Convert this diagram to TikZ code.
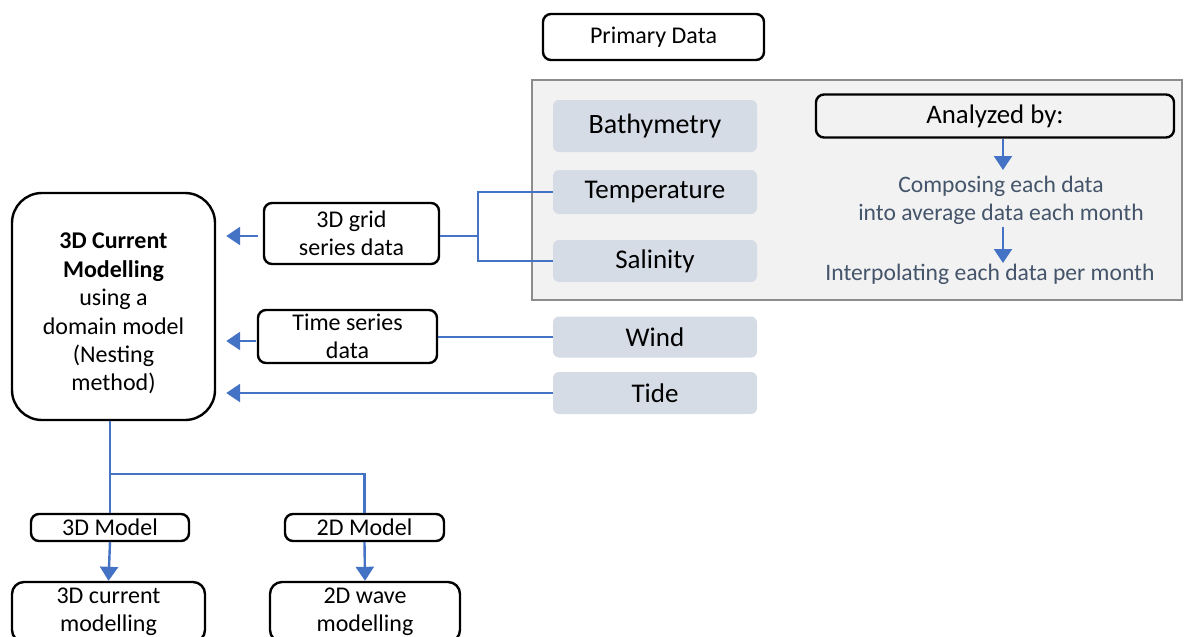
\documentclass[tikz,border=0pt]{standalone}
\usepackage{fontspec}
\setmainfont{Carlito}
\usetikzlibrary{arrows.meta}

\definecolor{arrowblue}{HTML}{4472C4}
\definecolor{panelgray}{HTML}{F2F2F2}
\definecolor{panelline}{HTML}{8C8C8C}
\definecolor{datafill}{HTML}{D6DCE5}
\definecolor{notetext}{HTML}{44546A}

\tikzset{
  box/.style={draw=black, line width=1.2pt, rounded corners=4pt, align=center, inner sep=0pt,
    font=\fontsize{12}{14.2}\selectfont},
  databox/.style={fill=datafill, rounded corners=3pt, minimum width=102pt, inner sep=0pt,
    font=\fontsize{13.5}{16}\selectfont},
  note/.style={text=notetext, align=center, inner sep=1pt, font=\fontsize{11.8}{14}\selectfont},
  link/.style={draw=arrowblue, line width=1.2pt},
  feed/.style={link, -{Triangle[width=9pt,length=7pt]}},
}

\begin{document}
\begin{tikzpicture}[x=0.5pt,y=-0.5pt]
  \useasboundingbox (0,0) rectangle (1184,637);
  \clip (0,0) rectangle (1184,637);

  % primary data panel
  \node[box, minimum width=110.5pt, minimum height=23pt] (primary) at (653.5,37) {Primary Data};
  \draw[fill=panelgray, draw=panelline, line width=1pt] (532,80) rectangle (1182,300);

  \node[databox, minimum height=26pt, font=\fontsize{14}{16}\selectfont] (bathy) at (655,126) {Bathymetry};
  \node[databox, minimum height=22pt] (temp) at (655,192) {Temperature};
  \node[databox, minimum height=21pt] (sal) at (655,261) {Salinity};
  \node[databox, minimum height=20.5pt] (wind) at (655,337) {Wind};
  \node[databox, minimum height=21pt] (tide) at (655,393) {Tide};

  \node[box, minimum width=179pt, minimum height=21.5pt, font=\fontsize{13.4}{15}\selectfont]
    (analyzed) at (995,116) {Analyzed by:};
  \node[note] (compose) at (1001,200) {Composing each data\\into average data each month};
  \node[note] (interp) at (990,274) {Interpolating each data per month};
  \draw[feed] (analyzed.south -| 1003,0) -- (1003,170);
  \draw[feed] (compose.south -| 1003,0) -- (1003,263);

  % data boxes
  \node[box, minimum width=87.5pt, minimum height=30.5pt] (grid) at (351.5,233.5) {3D grid\\series data};
  \node[box, minimum width=89.5pt, minimum height=26.5pt] (timeser) at (347.5,336.5) {Time series\\data};

  % model
  \node[box, rounded corners=15pt, minimum width=101.5pt, minimum height=113.5pt] (main) at (113.5,306.5)
    {\rule{0pt}{15pt}\textbf{3D Current}\\\textbf{Modelling}\\using a\\domain model\\(Nesting\\method)};
  \node[box, minimum width=79pt, minimum height=13.5pt] (model3) at (110,527.5) {3D Model};
  \node[box, minimum width=79.5pt, minimum height=13.5pt] (model2) at (364.5,527.5) {2D Model};
  \node[box, rounded corners=6pt, minimum width=96.5pt, minimum height=30pt] (curr3) at (108.5,612) {3D current\\modelling};
  \node[box, rounded corners=6pt, minimum width=95pt, minimum height=30pt] (wave2) at (365,612) {2D wave\\modelling};

  % connectors
  \coordinate (split) at (478,236);
  \coordinate (fork) at (110,474);
  \draw[link] (grid.east |- split) -- (split);
  \draw[link] (temp.west) -- (split |- temp.west) -- (split |- sal.west) -- (sal.west);
  \draw[feed, shorten <=2.5pt, shorten >=5pt] (grid.west |- split) -- (main.east |- split);
  \draw[link] (wind.west) -- (timeser.east |- wind.west);
  \draw[feed, shorten <=0.5pt, shorten >=5pt] (timeser.west |- 0,341) -- (main.east |- 0,341);
  \draw[feed, shorten >=5pt] (tide.west) -- (main.east |- tide.west);
  \draw[link] (main.south -| fork) -- (model3.north);
  \draw[link] (fork) -| (model2.north);
  \draw[feed] (model3.south) -- (curr3.north);
  \draw[feed] (model2.south) -- (wave2.north);
\end{tikzpicture}
\end{document}
